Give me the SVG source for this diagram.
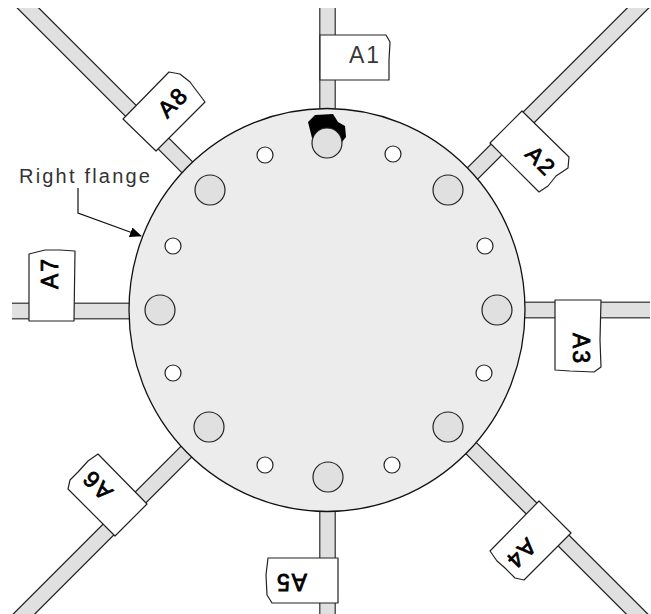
<svg xmlns="http://www.w3.org/2000/svg" width="651" height="614" viewBox="0 0 651 614">
<style>
.bo{stroke:#555;stroke-width:17;fill:none}
.do{stroke:#222;stroke-width:16.500;fill:none}
.bi{stroke:#e0e0e0;stroke-width:14;fill:none}
.tag{fill:#fff;stroke:#222;stroke-width:1.2;stroke-linejoin:round}
.big{fill:#e0e0e0;stroke:#222;stroke-width:1.2}
.small{fill:#fff;stroke:#222;stroke-width:1.2}
text{font-family:"Liberation Sans",Arial,sans-serif}
.lab{font-size:23px;letter-spacing:2px;text-anchor:middle;fill:#000;dominant-baseline:central}
.rot{stroke:#000;stroke-width:.8}
</style>
<defs>
<clipPath id="c"><rect x="12" y="8" width="638" height="606"/></clipPath>
<marker id="ah" viewBox="0 0 12 10" refX="11" refY="5" markerWidth="12" markerHeight="10" markerUnits="userSpaceOnUse" orient="auto"><path d="M0 0L12 5L0 10z" fill="#000"/></marker>
</defs>
<g id="connectors" clip-path="url(#c)">
<path class="do" d="M-15 -35L225 205M675 -29L435 211M685 662L445 422M-29 667L211 427"/>
<path class="bo" d="M327.500 0V130M327.500 490V614M0 311H150M505 310H651"/>
<path class="bi" d="M-15 -35L225 205M675 -29L435 211M685 662L445 422M-29 667L211 427M327.500 0V130M327.500 490V614M0 311H150M505 310H651"/>
</g>
<g id="flange">
<ellipse cx="327" cy="310" rx="198" ry="201.500" fill="#ececec" stroke="#111" stroke-width="1.3"/>
<path d="M308 122L315 115L333 114L338 122L345 126L346 137L342 142L312 138Z" fill="#000"/>
<circle class="big" cx="327" cy="143" r="15"/>
<circle class="big" cx="210" cy="190" r="15"/>
<circle class="big" cx="448" cy="190" r="15"/>
<circle class="big" cx="160" cy="310" r="15"/>
<circle class="big" cx="497" cy="310" r="15"/>
<circle class="big" cx="209" cy="427" r="15"/>
<circle class="big" cx="448" cy="427" r="15"/>
<circle class="big" cx="328" cy="477" r="15"/>
<circle class="small" cx="265" cy="155" r="8"/>
<circle class="small" cx="393" cy="154" r="8"/>
<circle class="small" cx="173" cy="246" r="8"/>
<circle class="small" cx="485" cy="246" r="8"/>
<circle class="small" cx="173" cy="373" r="8"/>
<circle class="small" cx="484" cy="373" r="8"/>
<circle class="small" cx="265" cy="465" r="8"/>
<circle class="small" cx="392" cy="465" r="8"/>
</g>
<g id="A1"><path class="tag" d="M320 35H386L390 42L389 60L389 80H320Z"/><text class="lab" fill-opacity=".8" transform="translate(365 55)">A1</text></g>
<g id="A2"><path class="tag" d="M522 111L569 157L568 168L556 176L548 186L539 192L490 143Z"/><text class="lab rot" transform="translate(541 161) rotate(45)">A2</text></g>
<g id="A3"><path class="tag" d="M555 300H601L600 340L601 367L594 372L570 371L555 370Z"/><text class="lab rot" transform="translate(581 349) rotate(90)">A3</text></g>
<g id="A4"><path class="tag" d="M539 501L571 533L524 580L515 578L505 568L497 561L490 551Z"/><text class="lab rot" transform="translate(521 554) rotate(135)">A4</text></g>
<g id="A5"><path class="tag" d="M268 558H338V603H272L267 595L266 575Z"/><text class="lab rot" transform="translate(291 582) rotate(180)">A5</text></g>
<g id="A6"><path class="tag" d="M98 454L147 504L115 536L68 489L70 480L78 472L88 461Z"/><text class="lab rot" transform="translate(97 485) rotate(225)">A6</text></g>
<g id="A7"><path class="tag" d="M29 254L45 250L60 250L75 251L74 321H29Z"/><text class="lab rot" transform="translate(50 273) rotate(-90)">A7</text></g>
<g id="A8"><path class="tag" d="M169 72L180 74L190 82L205 102L156 151L123 119Z"/><text class="lab rot" transform="translate(173 102) rotate(-45)">A8</text></g>
<g id="label-right-flange">
<text x="19" y="183" font-size="20" letter-spacing="2.200" fill="#333">Right flange</text>
<path d="M78 188V213L141 236" fill="none" stroke="#111" stroke-width="1.2" marker-end="url(#ah)"/>
</g>
</svg>
